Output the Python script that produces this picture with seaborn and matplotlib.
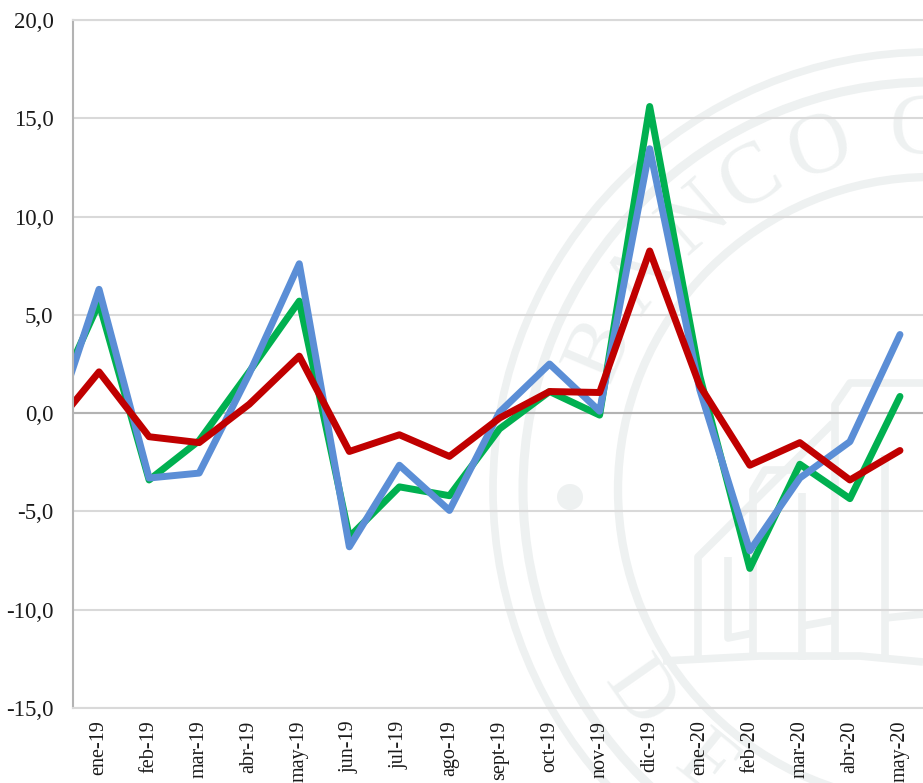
import numpy as np
import pandas as pd
import matplotlib
matplotlib.use("Agg")
import matplotlib.pyplot as plt
from matplotlib.patches import Circle
import seaborn as sns

months = ["dic-18", "ene-19", "feb-19", "mar-19", "abr-19", "may-19", "jun-19", "jul-19", "ago-19",
          "sept-19", "oct-19", "nov-19", "dic-19", "ene-20", "feb-20", "mar-20", "abr-20", "may-20"]
green = [0.0, 5.6, -3.4, -1.4, 2.1, 5.7, -6.3, -3.75, -4.2, -0.8, 1.1, -0.1, 15.6, 1.9, -7.9, -2.6, -4.35, 0.85]
blue = [-1.4, 6.3, -3.3, -3.05, 2.0, 7.6, -6.8, -2.65, -4.95, 0.05, 2.5, 0.1, 13.45, 1.2, -7.0, -3.3, -1.45, 4.0]
red = [-1.0, 2.1, -1.2, -1.5, 0.45, 2.9, -1.95, -1.1, -2.2, -0.25, 1.1, 1.05, 8.25, 1.4, -2.65, -1.5, -3.4, -1.9]
yticks = [-15, -10, -5, 0, 5, 10, 15, 20]

df = pd.DataFrame({"x": range(-1, 17), "green": green, "blue": blue, "red": red})

sns.set_theme(style="white")
plt.rcParams["font.family"] = ["Liberation Serif", "DejaVu Serif"]
W, H = 923, 783
fig = plt.figure(figsize=(W / 100, H / 100), dpi=100, facecolor="white")
ax = fig.add_axes([73 / W, 1 - 708 / H, (W - 73) / W, 688 / H])
ax.set_facecolor("none")

# watermark seal on a background axes in pixel coordinates
bg = fig.add_axes([0, 0, 1, 1], zorder=-1)
bg.set_xlim(0, W); bg.set_ylim(H, 0); bg.axis("off")
wm = "#eef1f1"
cx, cy = 931, 490
for r, lw in [(438, 5.5), (408, 6.5), (313, 6)]:
    bg.add_patch(Circle((cx, cy), r, fill=False, ec=wm, lw=lw))
for ch, ang in [("B", -67), ("A", -54), ("N", -41), ("C", -30), ("O", -18), ("C", -2),
                ("D", -125), ("E", -141)]:
    a = np.deg2rad(ang)
    rot = -ang if abs(ang) < 90 else -ang - 180
    bg.text(cx + 358 * np.sin(a), cy - 358 * np.cos(a), ch, fontsize=62, color=wm,
            rotation=rot, ha="center", va="center", family="Liberation Serif")
bg.add_patch(Circle((570, 497), 13, color=wm, lw=0))
building = [
    ([698, 698, 833], [660, 557, 423]),
    ([728, 728, 753], [557, 638, 633]),
    ([753, 753, 765, 802], [660, 490, 470, 470]),
    ([802, 802], [660, 493]),
    ([835, 835, 850, 923], [660, 405, 383, 383]),
    ([885, 885], [660, 455]),
    ([802, 835], [626, 620]),
    ([885, 923], [618, 614]),
    ([663, 760, 860, 923], [661, 656, 656, 662]),
]
for xs, ys in building:
    bg.plot(xs, ys, color=wm, lw=5.5, solid_capstyle="butt")

sns.lineplot(data=df, x="x", y="green", color="#00b050", lw=5, ax=ax, solid_capstyle="round", solid_joinstyle="round")
sns.lineplot(data=df, x="x", y="blue", color="#5b8ed6", lw=5, ax=ax, solid_capstyle="round", solid_joinstyle="round")
sns.lineplot(data=df, x="x", y="red", color="#c00000", lw=5, ax=ax, solid_capstyle="round", solid_joinstyle="round")

ax.set_xlim(-0.52, 16.46)
ax.set_ylim(-15, 20)
ax.set_xlabel(""); ax.set_ylabel("")
ax.set_yticks(yticks)
ax.set_yticklabels([f"{v:.1f}".replace(".", ",") for v in yticks], fontsize=16.5, color="#1a1a1a")
ax.set_xticks(range(17))
ax.set_xticklabels(months[1:], rotation=90, fontsize=14.5, color="#1a1a1a")
ax.tick_params(axis="x", length=0, pad=9)
ax.tick_params(axis="y", length=0, pad=14)
ax.yaxis.grid(True, color="#d9d9d9", lw=1.5)
ax.xaxis.grid(False)
ax.set_axisbelow(True)
ax.axhline(0, color="#b3b3b3", lw=1.5, zorder=1.5)
ax.spines["right"].set_visible(False)
ax.spines["top"].set_color("#d9d9d9"); ax.spines["top"].set_linewidth(1.5)
ax.spines["left"].set_color("#b3b3b3"); ax.spines["left"].set_linewidth(1.5)
ax.spines["bottom"].set_color("#d9d9d9"); ax.spines["bottom"].set_linewidth(1.5)
fig.savefig("out.png", dpi=100)
